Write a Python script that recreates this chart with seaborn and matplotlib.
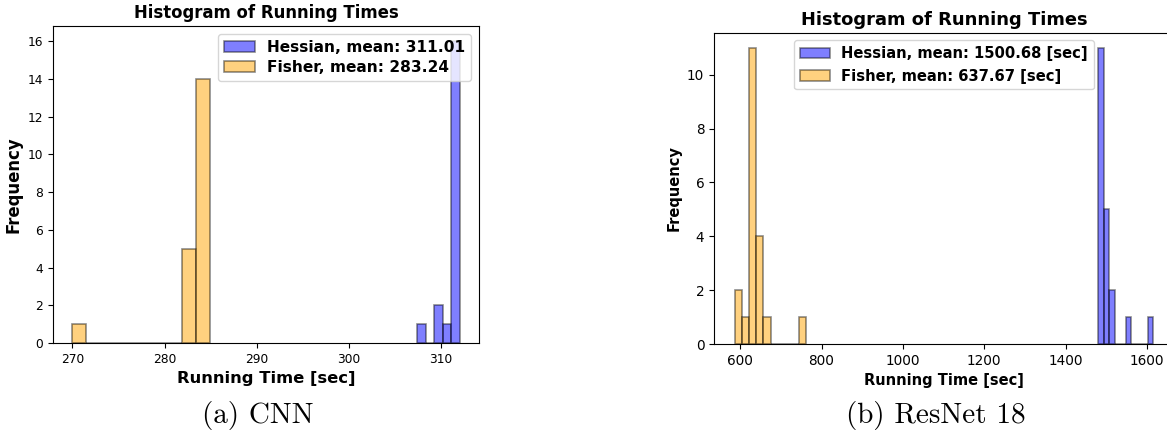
import numpy as np
import matplotlib
matplotlib.use('Agg')
import matplotlib.pyplot as plt
import seaborn as sns

# running times (20 runs each)
cnn_hessian = [307.4, 309.5, 309.9, 310.7,
               311.1, 311.2, 311.2, 311.3, 311.3, 311.3, 311.4, 311.4,
               311.4, 311.4, 311.5, 311.5, 311.5, 311.6, 311.6, 312.0]
cnn_fisher = [270.0, 282.4, 282.7, 282.9, 283.1, 283.2,
              283.6, 283.8, 283.9, 284.0, 284.1, 284.2, 284.3,
              284.4, 284.5, 284.6, 284.6, 284.7, 284.8, 284.9]

resnet_hessian = [1480, 1481, 1482, 1483, 1483, 1484, 1485, 1486, 1487, 1488, 1486.6,
                  1495, 1497, 1499, 1501, 1504, 1510, 1515, 1552, 1615]
resnet_fisher = [587, 600, 615,
                 624, 626, 627, 629, 630, 631, 632, 633, 634, 636, 638.4,
                 642, 645, 648, 652, 662, 762]

captions = ['(a) CNN', '(b) ResNet 18']


def draw_panel(ax, hessian, fisher, h_bins, f_bins, unit, fs, legend_loc, spacing):
    edge = (0, 0, 0, 0.45)
    sns.histplot(x=hessian, bins=h_bins, color='blue', alpha=0.5, edgecolor=edge,
                 linewidth=1.2, label=f'Hessian, mean: {np.mean(hessian):.2f}{unit}', ax=ax)
    sns.histplot(x=fisher, bins=f_bins, color='orange', alpha=0.5, edgecolor=edge,
                 linewidth=1.2, label=f'Fisher, mean: {np.mean(fisher):.2f}{unit}', ax=ax)
    ax.set_title('Histogram of Running Times', fontweight='bold', fontsize=fs['title'])
    ax.set_xlabel('Running Time [sec]', fontweight='bold', fontsize=fs['xlabel'])
    ax.set_ylabel('Frequency', fontweight='bold', fontsize=fs['ylabel'])
    ax.tick_params(labelsize=fs['tick'])
    ax.legend(loc=legend_loc, labelspacing=spacing,
              prop={'weight': 'bold', 'size': fs['legend']})


fig = plt.figure(figsize=(11.67, 4.37), dpi=100)
ax1 = fig.add_axes([53 / 1167, 94 / 437, 426 / 1167, 317 / 437])
ax2 = fig.add_axes([714 / 1167, 93 / 437, 460 / 1167, 311 / 437])

draw_panel(ax1, cnn_hessian, cnn_fisher, 5, 10, '',
           {'title': 11.9, 'xlabel': 11.8, 'ylabel': 11.9, 'tick': 8.8, 'legend': 11.1},
           'upper right', 0.35)
draw_panel(ax2, resnet_hessian, resnet_fisher, 10, 10, ' [sec]',
           {'title': 12.9, 'xlabel': 10.5, 'ylabel': 10.5, 'tick': 9.8, 'legend': 10.6},
           'upper center', 0.5)
ax2.set_xticks([600, 800, 1000, 1200, 1400, 1600])

fig.text(258 / 1167, 1 - 416 / 437, captions[0], ha='center', va='center',
         fontsize=21, family='cmr10')
fig.text(936 / 1167, 1 - 416 / 437, captions[1], ha='center', va='center',
         fontsize=21, family='cmr10')

fig.savefig('out.png', dpi=100)
